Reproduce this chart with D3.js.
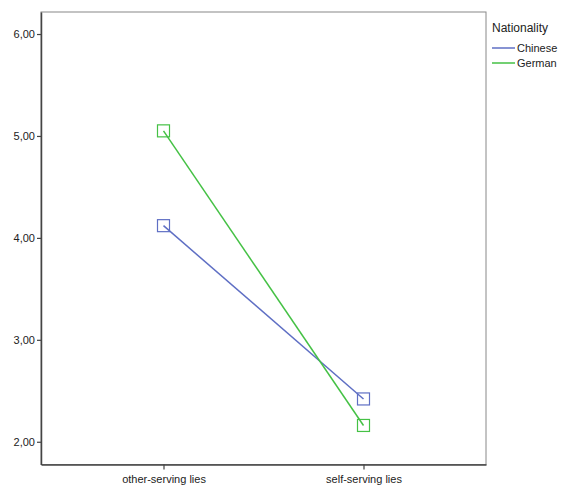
<!DOCTYPE html>
<html>
<head>
<meta charset="utf-8">
<script src="https://cdn.jsdelivr.net/npm/d3@7"></script>
<style>
  body { margin: 0; background: #fff; }
  svg text { font-family: "Liberation Sans", Arial, sans-serif; fill: #222; }
</style>
</head>
<body>
<div id="chart"></div>
<script>
// data
var categories = ["other-serving lies", "self-serving lies"];
var seriesNames = ["Chinese", "German"];
var chineseValues = [4.12, 2.42];
var germanValues = [5.05, 2.16];
var yTicks = [2, 3, 4, 5, 6];
var colors = ["#5f6fc4", "#45c145"];

var W = 564, H = 496;
var plot = { left: 41, top: 12, right: 486, bottom: 464.5 };

var svg = d3.select("#chart").append("svg")
    .attr("width", W)
    .attr("height", H);

// scales
var xScale = d3.scalePoint()
    .domain(categories)
    .range([plot.left, plot.right])
    .padding(0.6125);

var yScale = d3.scaleLinear()
    .domain([1.777, 6.216])
    .range([plot.bottom, plot.top]);

// frame
svg.append("rect")
    .attr("x", plot.left)
    .attr("y", plot.top)
    .attr("width", plot.right - plot.left)
    .attr("height", plot.bottom - plot.top)
    .attr("fill", "none")
    .attr("stroke", "#888")
    .attr("stroke-width", 1);

// y axis
var yAxis = svg.append("g")
    .attr("transform", "translate(" + plot.left + ",0)")
    .call(d3.axisLeft(yScale).tickValues(yTicks).tickSize(4).tickSizeOuter(0).tickPadding(2)
        .tickFormat(function(d) { return d3.format(".2f")(d).replace(".", ","); }));
yAxis.select(".domain").attr("stroke", "#444").attr("stroke-width", 1.5);
yAxis.selectAll(".tick line").attr("stroke", "#444").attr("stroke-width", 1.2);
yAxis.selectAll(".tick text").style("font-size", "11px").attr("fill", "#222");

// x axis
var xAxis = svg.append("g")
    .attr("transform", "translate(0," + plot.bottom + ")")
    .call(d3.axisBottom(xScale).tickSize(5).tickSizeOuter(0).tickPadding(6));
xAxis.select(".domain").attr("stroke", "#444").attr("stroke-width", 1.5);
xAxis.selectAll(".tick line").attr("stroke", "#444").attr("stroke-width", 1.2);
xAxis.selectAll(".tick text").style("font-size", "11px").attr("fill", "#222");

// lines & markers
var series = [chineseValues, germanValues];
var line = d3.line()
    .x(function(d, i) { return xScale(categories[i]); })
    .y(function(d) { return yScale(d); });

series.forEach(function(vals, s) {
    svg.append("path")
        .datum(vals)
        .attr("d", line)
        .attr("fill", "none")
        .attr("stroke", colors[s])
        .attr("stroke-width", 1.5);

    svg.selectAll(".mk" + s)
        .data(vals)
        .enter()
        .append("rect")
        .attr("class", "mk" + s)
        .attr("x", function(d, i) { return xScale(categories[i]) - 6; })
        .attr("y", function(d) { return yScale(d) - 6; })
        .attr("width", 12)
        .attr("height", 12)
        .attr("fill", "none")
        .attr("stroke", colors[s])
        .attr("stroke-width", 1.2);
});

// legend
var legend = svg.append("g").attr("transform", "translate(492,0)");
legend.append("text")
    .attr("x", 0)
    .attr("y", 32)
    .style("font-size", "12px")
    .text("Nationality");
seriesNames.forEach(function(name, i) {
    var y = 48 + i * 15;
    legend.append("line")
        .attr("x1", 0).attr("x2", 23)
        .attr("y1", y).attr("y2", y)
        .attr("stroke", colors[i])
        .attr("stroke-width", 1.5);
    legend.append("text")
        .attr("x", 25)
        .attr("y", y + 4)
        .style("font-size", "11px")
        .text(name);
});
</script>
</body>
</html>
